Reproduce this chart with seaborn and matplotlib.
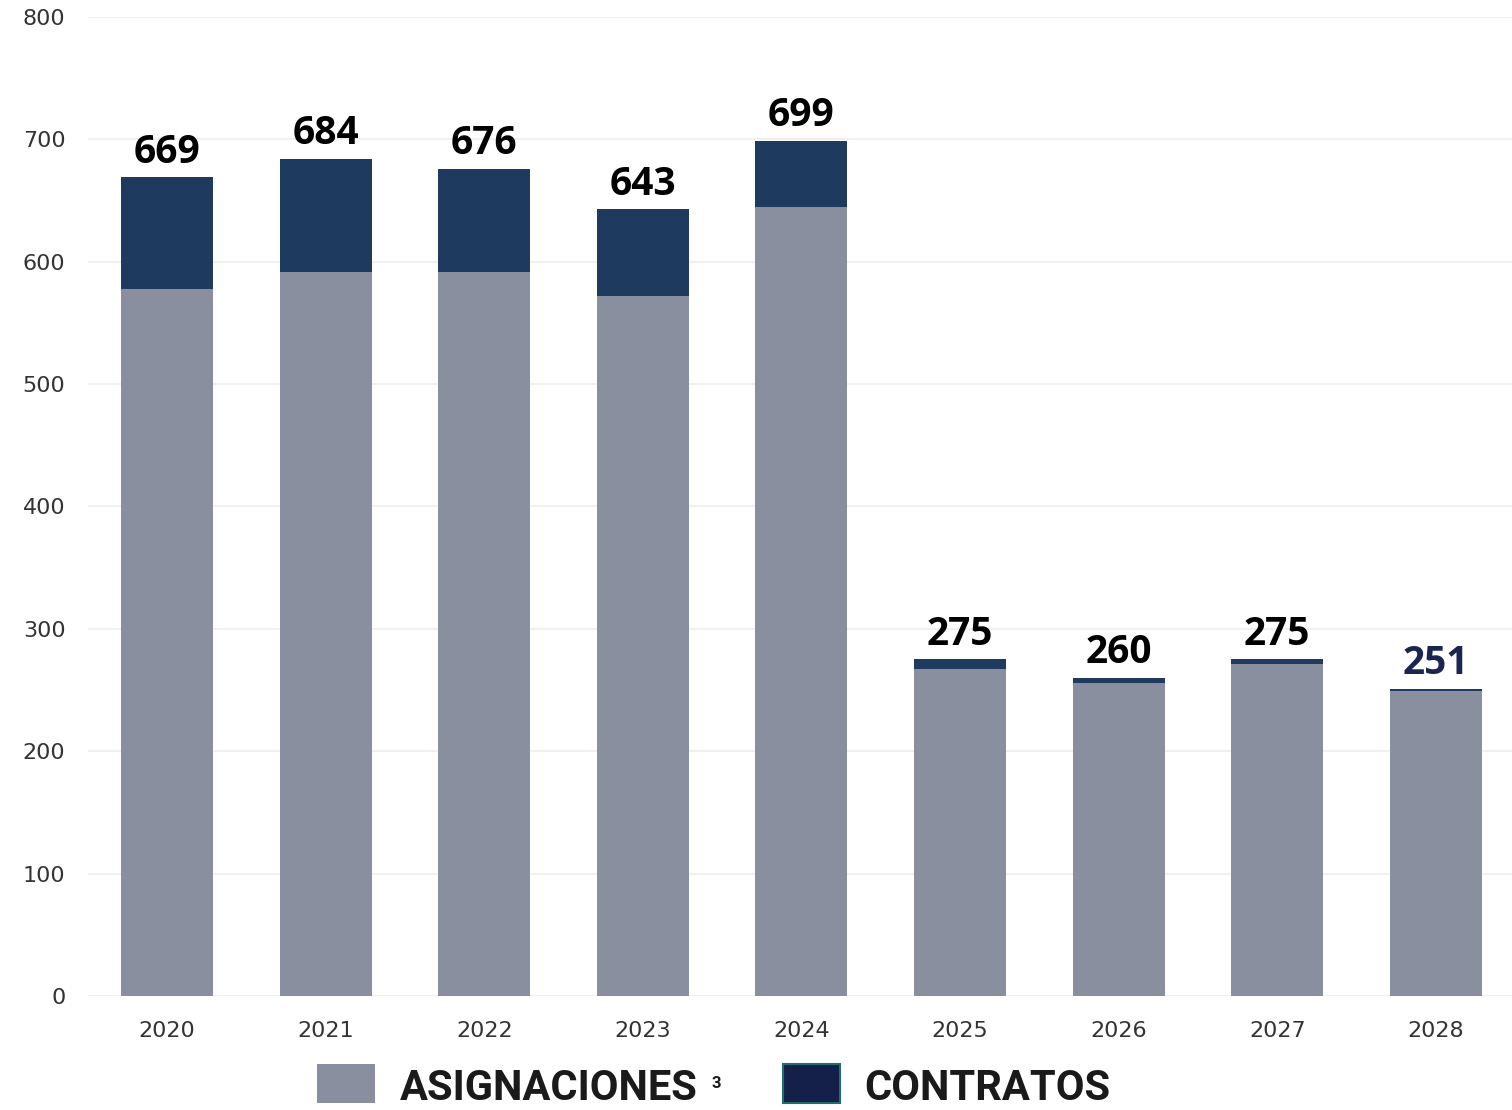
import matplotlib
matplotlib.use('Agg')
import matplotlib.pyplot as plt
from matplotlib.patches import Rectangle
import pandas as pd
import seaborn as sns

# data
YEARS = ['2020', '2021', '2022', '2023', '2024', '2025', '2026', '2027', '2028']
ASIGNACIONES = [578, 592, 592, 572, 645, 267, 256, 271, 249]
CONTRATOS = [91, 92, 84, 71, 54, 8, 4, 4, 2]
TOTALS = [a + c for a, c in zip(ASIGNACIONES, CONTRATOS)]

GRAY = '#8a8fa0'
NAVY = '#1f3a5f'
LEG_NAVY = '#15204a'
TICK = '#333333'
GRID = '#f0f0f0'

sns.set_theme(style='white')
plt.rcParams['font.family'] = ['DejaVu Sans']

df = pd.DataFrame({'year': YEARS, 'asig': ASIGNACIONES, 'total': TOTALS})

fig = plt.figure(figsize=(15.12, 11.10), dpi=100)
ax = fig.add_axes([0.058, 0.1027, 0.942, 0.882])

# total bar underneath (navy), asignaciones on top (gray) -> stacked look
sns.barplot(data=df, x='year', y='total', color=NAVY, saturation=1, width=0.58,
            linewidth=0, ax=ax)
sns.barplot(data=df, x='year', y='asig', color=GRAY, saturation=1, width=0.58,
            linewidth=0, ax=ax)

ax.set_ylim(0, 800)
ax.set_xlim(-0.5, 8.48)
ax.set_yticks(range(0, 801, 100))
ax.yaxis.grid(True, color=GRID, linewidth=1.5)
ax.set_axisbelow(True)
for sp in ax.spines.values():
    sp.set_visible(False)
ax.set_xlabel('')
ax.set_ylabel('')
ax.tick_params(axis='y', colors=TICK, labelsize=16, length=0, pad=16)
ax.tick_params(axis='x', colors=TICK, labelsize=16, length=0, pad=18)

for i, t in enumerate(TOTALS):
    col = '#1a2550' if i == len(TOTALS) - 1 else 'black'
    ax.annotate(str(t), (i, t), xytext=(0, 4), textcoords='offset points',
                ha='center', va='bottom', fontsize=28, fontweight='bold',
                color=col, family=['Open Sans', 'DejaVu Sans'])

# legend drawn by hand
fig.patches.append(Rectangle((317 / 1512, 1 - 1103 / 1110), 58 / 1512, 39 / 1110,
                             transform=fig.transFigure, facecolor=GRAY, edgecolor='none'))
fig.patches.append(Rectangle((783 / 1512, 1 - 1103 / 1110), 57 / 1512, 39 / 1110,
                             transform=fig.transFigure, facecolor=LEG_NAVY,
                             edgecolor='#1f6f6a', linewidth=1.5))
fig.text(400 / 1512, 1 - 1088 / 1110, 'ASIGNACIONES', fontsize=30, fontweight='bold',
         color='#1a1a1a', va='center', ha='left', family=['Roboto', 'DejaVu Sans'])
fig.text(711 / 1512, 1 - 1083 / 1110, '3', fontsize=12, fontweight='bold',
         color='#1a1a1a', va='center', ha='left', family=['Roboto', 'DejaVu Sans'])
fig.text(864 / 1512, 1 - 1088 / 1110, 'CONTRATOS', fontsize=30, fontweight='bold',
         color='#1a1a1a', va='center', ha='left', family=['Roboto', 'DejaVu Sans'])

fig.savefig('out.png', dpi=100, facecolor='white')
